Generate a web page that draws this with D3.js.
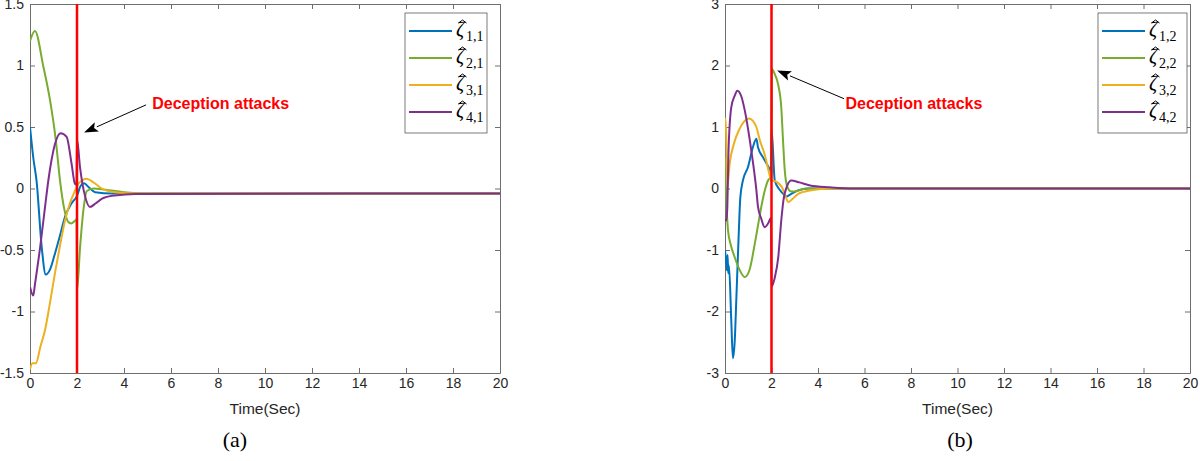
<!DOCTYPE html>
<html lang="en">
  <head>
    <meta charset="UTF-8" />
    <title>Estimated states under deception attacks</title>
    <script src="https://d3js.org/d3.v7.min.js"></script>
    <style>
      body { margin: 0; background: #fff; }
      .axis text { font-family: "Liberation Sans", Arial, sans-serif; font-size: 14px; fill: #262626; }
      .axis path, .axis line { stroke: #6e6e6e; }
      .xlabel { font-family: "Liberation Sans", Arial, sans-serif; font-size: 15.5px; fill: #262626; text-anchor: middle; }
      .caption { font-family: "Liberation Serif", "DejaVu Serif", serif; font-size: 22px; text-anchor: middle; fill: #000; }
      .attack { font-family: "Liberation Sans", Arial, sans-serif; font-weight: bold; font-size: 16px; fill: #ff0000; }
      .leg { font-family: "Liberation Serif", "DejaVu Serif", serif; fill: #000; }
    </style>
  </head>
  <body>
    <svg id="figure" width="1200" height="461"></svg>

    <script>
      // ---- data ----
      const timeTicks = [0, 2, 4, 6, 8, 10, 12, 14, 16, 18, 20];
      const yTicksA = [-1.5, -1, -0.5, 0, 0.5, 1, 1.5];
      const yTicksB = [-3, -2, -1, 0, 1, 2, 3];
      const subsA = ["1,1", "2,1", "3,1", "4,1"];
      const subsB = ["1,2", "2,2", "3,2", "4,2"];
      const colors = ["#0072bd", "#77ac30", "#edb120", "#7e2f8e"];
      const attackTime = 2;

      // panel (a)
      const t11 = [0, 0.14, 0.28, 0.5, 0.67, 0.85, 1.06, 1.28, 1.49, 1.77, 2.0, 2.15, 2.3, 2.5, 2.77, 3.5, 5, 20];
      const v11 = [0.5, 0.25, 0.06, -0.48, -0.7, -0.66, -0.53, -0.38, -0.23, -0.12, -0.06, 0.02, 0.043, 0.01, -0.03, -0.04, -0.04, -0.04];
      const t21 = [0, 0.21, 0.57, 0.85, 1.1, 1.28, 1.45, 1.62, 1.75, 1.9, 1.98, 2.0, 2.13, 2.27, 2.42, 2.7, 3.2, 4.0, 5.0, 20];
      const v21 = [1.2, 1.28, 0.99, 0.72, 0.39, 0.06, -0.16, -0.27, -0.285, -0.265, -0.25, -0.83, -0.48, -0.18, -0.02, 0.0, -0.01, -0.03, -0.04, -0.04];
      const t31 = [0, 0.1, 0.25, 0.45, 0.64, 0.85, 1.06, 1.28, 1.49, 1.7, 1.91, 2.0, 2.2, 2.4, 2.7, 3.05, 3.6, 4.5, 20];
      const v31 = [-1.47, -1.42, -1.42, -1.28, -1.15, -0.93, -0.69, -0.46, -0.26, -0.12, -0.02, 0.02, 0.065, 0.08, 0.05, 0.0, -0.03, -0.04, -0.04];
      const t41 = [0, 0.14, 0.21, 0.43, 0.64, 0.78, 1.06, 1.3, 1.56, 1.77, 1.91, 1.98, 2.0, 2.13, 2.34, 2.55, 2.8, 3.05, 3.6, 4.5, 20];
      const v41 = [-0.8, -0.87, -0.78, -0.48, -0.15, 0.065, 0.36, 0.45, 0.42, 0.2, 0.04, 0.03, 0.4, 0.17, -0.06, -0.15, -0.12, -0.084, -0.057, -0.045, -0.04];

      // panel (b)
      const t12 = [0, 0.04, 0.08, 0.11, 0.14, 0.17, 0.27, 0.34, 0.42, 0.49, 0.57, 0.66, 0.77, 0.99, 1.2, 1.35, 1.42, 1.63, 1.92, 1.98, 2.0, 2.14, 2.35, 2.57, 2.64, 2.8, 3.14, 3.6, 20];
      const v12 = [-1.0, -1.15, -1.33, -1.08, -1.38, -1.25, -2.15, -2.76, -2.47, -1.77, -0.95, -0.14, 0.13, 0.35, 0.67, 0.81, 0.67, 0.51, 0.32, 0.28, 0.98, 0.13, -0.02, -0.11, -0.13, -0.1, -0.03, 0.0, 0.0];
      const t22 = [0, 0.05, 0.13, 0.25, 0.42, 0.6, 0.85, 1.05, 1.28, 1.42, 1.56, 1.72, 1.85, 1.96, 1.99, 2.02, 2.14, 2.28, 2.42, 2.5, 2.57, 2.68, 2.85, 3.1, 3.5, 20];
      const v22 = [0.5, -0.14, -0.68, -0.92, -1.12, -1.3, -1.44, -1.33, -0.9, -0.6, -0.3, -0.02, 0.13, 0.18, 0.2, 1.94, 1.86, 1.7, 1.32, 0.75, 0.3, 0.03, -0.05, -0.04, 0.0, 0.0];
      const t32 = [0, 0.05, 0.1, 0.2, 0.4, 0.6, 0.8, 1.03, 1.2, 1.35, 1.5, 1.71, 1.9, 2.0, 2.1, 2.25, 2.45, 2.6, 2.72, 2.9, 3.14, 3.71, 4.5, 20];
      const v32 = [1.15, 0.9, 0.02, 0.4, 0.75, 0.95, 1.08, 1.14, 1.1, 1.0, 0.78, 0.55, 0.25, 0.12, 0.12, 0.1, 0.02, -0.12, -0.22, -0.17, -0.09, -0.03, 0.0, 0.0];
      const t42 = [0, 0.06, 0.1, 0.15, 0.27, 0.42, 0.53, 0.7, 0.85, 1.0, 1.13, 1.35, 1.42, 1.55, 1.71, 1.85, 1.98, 2.0, 2.14, 2.29, 2.42, 2.51, 2.68, 2.85, 3.2, 3.66, 4.5, 5.5, 20];
      const v42 = [-0.5, -0.52, -0.3, 0.6, 1.32, 1.51, 1.59, 1.5, 1.27, 0.95, 0.62, -0.03, -0.3, -0.48, -0.63, -0.57, -0.48, -1.6, -1.45, -1.12, -0.52, -0.2, 0.05, 0.13, 0.1, 0.05, 0.02, 0.0, 0.0];

      const panels = [
        {
          xRange: [30, 500], yRange: [373, 4], yDomain: [-1.5, 1.5], yTicks: yTicksA,
          series: [[t11, v11], [t21, v21], [t31, v31], [t41, v41]], subs: subsA,
          legend: { x: 405, y: 13, w: 82 },
          arrowTail: [4.94, 0.68], arrowTip: [2.3, 0.455], textAt: [5.2, 0.69],
          caption: "(a)", captionX: 235
        },
        {
          xRange: [725, 1190], yRange: [373, 4], yDomain: [-3, 3], yTicks: yTicksB,
          series: [[t12, v12], [t22, v22], [t32, v32], [t42, v42]], subs: subsB,
          legend: { x: 1098, y: 13, w: 89 },
          arrowTail: [5.12, 1.46], arrowTip: [2.24, 1.92], textAt: [5.18, 1.38],
          caption: "(b)", captionX: 960
        }
      ];

      const svg = d3.select("#figure");

      panels.forEach((p, pi) => {
        const x = d3.scaleLinear().domain([0, 20]).range(p.xRange);
        const y = d3.scaleLinear().domain(p.yDomain).range(p.yRange);
        const g = svg.append("g");

        const clipId = "clip" + pi;
        g.append("clipPath").attr("id", clipId)
          .append("rect")
          .attr("x", p.xRange[0]).attr("y", p.yRange[1])
          .attr("width", p.xRange[1] - p.xRange[0])
          .attr("height", p.yRange[0] - p.yRange[1]);

        // axes box with inward ticks (MATLAB style)
        const fmt = (d) => String(d);
        g.append("g").attr("class", "axis")
          .attr("transform", `translate(0,${p.yRange[0]})`)
          .call(d3.axisBottom(x).tickValues(timeTicks).tickSizeInner(-5).tickSizeOuter(0).tickPadding(5).tickFormat(fmt));
        g.append("g").attr("class", "axis")
          .attr("transform", `translate(0,${p.yRange[1]})`)
          .call(d3.axisTop(x).tickValues(timeTicks).tickSizeInner(-5).tickSizeOuter(0).tickFormat(""));
        g.append("g").attr("class", "axis")
          .attr("transform", `translate(${p.xRange[0]},0)`)
          .call(d3.axisLeft(y).tickValues(p.yTicks).tickSizeInner(-5).tickSizeOuter(0).tickPadding(6).tickFormat(fmt));
        g.append("g").attr("class", "axis")
          .attr("transform", `translate(${p.xRange[1]},0)`)
          .call(d3.axisRight(y).tickValues(p.yTicks).tickSizeInner(-5).tickSizeOuter(0).tickFormat(""));

        // curves
        const line = d3.line()
          .x((d) => x(d[0]))
          .y((d) => y(d[1]))
          .curve(d3.curveMonotoneX);
        p.series.forEach(([t, v], i) => {
          g.append("path")
            .attr("clip-path", `url(#${clipId})`)
            .attr("d", line(d3.zip(t, v)))
            .attr("fill", "none")
            .attr("stroke", colors[i])
            .attr("stroke-width", 2)
            .attr("stroke-linejoin", "round");
        });

        // attack instant
        g.append("line")
          .attr("x1", x(attackTime)).attr("x2", x(attackTime))
          .attr("y1", p.yRange[1]).attr("y2", p.yRange[0])
          .attr("stroke", "#ff0000").attr("stroke-width", 2.5);

        // annotation arrow
        const tx = x(p.arrowTail[0]), ty = y(p.arrowTail[1]);
        const hx = x(p.arrowTip[0]), hy = y(p.arrowTip[1]);
        const ang = Math.atan2(hy - ty, hx - tx);
        const hl = 14, hw = 5;
        const bx = hx - hl * Math.cos(ang), by = hy - hl * Math.sin(ang);
        g.append("line")
          .attr("x1", tx).attr("y1", ty).attr("x2", bx).attr("y2", by)
          .attr("stroke", "#000").attr("stroke-width", 1);
        g.append("path")
          .attr("d", `M${hx},${hy}L${bx + hw * Math.sin(ang)},${by - hw * Math.cos(ang)}` +
                     `L${bx + 3 * Math.cos(ang)},${by + 3 * Math.sin(ang)}` +
                     `L${bx - hw * Math.sin(ang)},${by + hw * Math.cos(ang)}Z`)
          .attr("fill", "#000");
        g.append("text")
          .attr("class", "attack")
          .attr("x", x(p.textAt[0]))
          .attr("y", y(p.textAt[1]))
          .attr("dy", "0.35em")
          .text("Deception attacks");

        // legend
        const L = p.legend;
        const rowH = 27;
        g.append("rect")
          .attr("x", L.x).attr("y", L.y)
          .attr("width", L.w).attr("height", rowH * 4 + 12)
          .attr("fill", "#fff").attr("stroke", "#5a5a5a").attr("stroke-width", 0.8);
        p.subs.forEach((s, i) => {
          const ry = L.y + 18 + i * rowH;
          g.append("line")
            .attr("x1", L.x + 4).attr("x2", L.x + 47)
            .attr("y1", ry).attr("y2", ry)
            .attr("stroke", colors[i]).attr("stroke-width", 2);
          const lx = L.x + 51;
          g.append("text").attr("class", "leg")
            .attr("x", lx).attr("y", ry + 5)
            .attr("font-size", 20).attr("font-style", "italic")
            .text("ζ");
          // hat accent drawn as a small chevron
          g.append("path")
            .attr("d", `M${lx + 2.5},${ry - 8}L${lx + 6.5},${ry - 11}L${lx + 10.5},${ry - 8}`)
            .attr("fill", "none").attr("stroke", "#000").attr("stroke-width", 1);
          g.append("text").attr("class", "leg")
            .attr("x", lx + 10).attr("y", ry + 10)
            .attr("font-size", 14)
            .text(s);
        });

        // labels
        g.append("text").attr("class", "xlabel")
          .attr("x", (p.xRange[0] + p.xRange[1]) / 2)
          .attr("y", 414)
          .text("Time(Sec)");
        g.append("text").attr("class", "caption")
          .attr("x", p.captionX)
          .attr("y", 447)
          .text(p.caption);
      });
    </script>
  </body>
</html>
